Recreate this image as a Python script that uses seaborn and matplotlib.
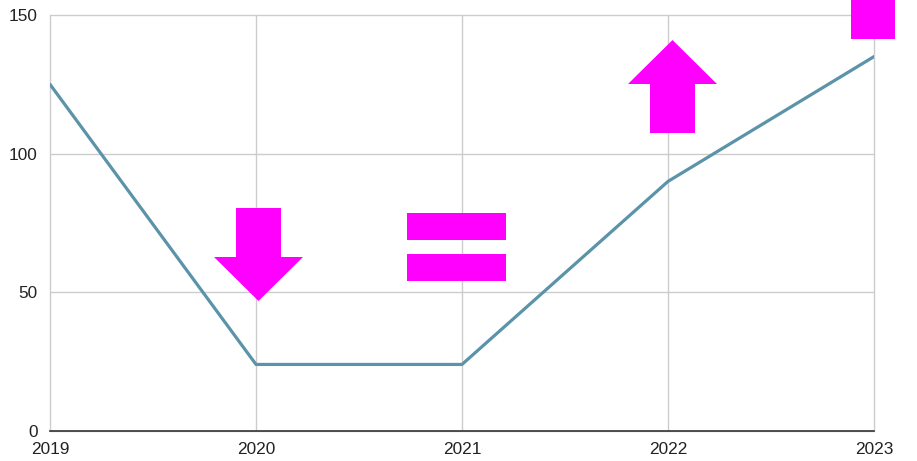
import matplotlib
matplotlib.use("Agg")
import matplotlib.pyplot as plt
import numpy as np
import pandas as pd
import seaborn as sns
from matplotlib.path import Path

years = [2019, 2020, 2021, 2022, 2023]
values = [125, 24, 24, 90, 135]

# trend signs drawn above the line, in data units
sign_names = ["down", "equal", "up", "square"]
sign_x = [2020.01, 2020.97, 2022.02, 2022.995]
sign_y = [64, 66.2, 124.5, 149.4]
sign_px = [93, 99, 93, 44]  # marker extent in pixels

LINE_COLOR = "#5b93a9"
SIGN_COLOR = "#ff00ff"


def arrow_path(up=True):
    # shaft 45 wide x 49 tall, head 89 wide x 44 tall
    verts = [(-22.5, -46.5), (22.5, -46.5), (22.5, 2.5), (44.5, 2.5),
             (0, 46.5), (-44.5, 2.5), (-22.5, 2.5), (-22.5, -46.5)]
    verts = np.array(verts)
    if not up:
        verts[:, 1] *= -1
    codes = [Path.MOVETO] + [Path.LINETO] * 6 + [Path.CLOSEPOLY]
    return Path(verts, codes)


def equal_path():
    bars = []
    codes = []
    for y0, y1 in [(7, 34), (-34, -7)]:
        bars += [(-49.5, y0), (49.5, y0), (49.5, y1), (-49.5, y1), (-49.5, y0)]
        codes += [Path.MOVETO, Path.LINETO, Path.LINETO, Path.LINETO, Path.CLOSEPOLY]
    return Path(np.array(bars), codes)


def square_path():
    verts = [(-1, -1), (1, -1), (1, 1), (-1, 1), (-1, -1)]
    codes = [Path.MOVETO, Path.LINETO, Path.LINETO, Path.LINETO, Path.CLOSEPOLY]
    return Path(np.array(verts, dtype=float), codes)


shapes = {
    "down": arrow_path(up=False),
    "equal": equal_path(),
    "up": arrow_path(up=True),
    "square": square_path(),
}

sns.set_theme(style="white")
plt.rcParams["font.family"] = ["Liberation Sans", "DejaVu Sans"]

dpi = 100
fig = plt.figure(figsize=(9.17, 4.61), dpi=dpi)
ax = fig.add_axes([50 / 917, 30 / 461, 824 / 917, 416 / 461])

df = pd.DataFrame({"year": years, "value": values})
sns.lineplot(data=df, x="year", y="value", ax=ax, color=LINE_COLOR, linewidth=2.3)

for name, x, y, px in zip(sign_names, sign_x, sign_y, sign_px):
    ax.plot([x], [y], marker=shapes[name], markersize=px * 72 / dpi,
            color=SIGN_COLOR, markeredgewidth=0, linestyle="none",
            clip_on=False, zorder=5)

ax.set_xlim(2019, 2023)
ax.set_ylim(0, 150)
ax.set_xticks(years)
ax.set_yticks([0, 50, 100, 150])
ax.set_xlabel("")
ax.set_ylabel("")
ax.grid(True, color="#cccccc", linewidth=1)
for gl in ax.get_xgridlines() + ax.get_ygridlines():
    gl.set_clip_on(False)
ax.set_axisbelow(True)
for side in ["top", "right", "left"]:
    ax.spines[side].set_visible(False)
ax.spines["bottom"].set_color("#333333")
ax.spines["bottom"].set_linewidth(1.2)
ax.tick_params(axis="both", length=0, labelsize=12.4, colors="#222222")
ax.tick_params(axis="x", pad=8)
ax.tick_params(axis="y", pad=9)

fig.savefig("out.png", dpi=dpi)
